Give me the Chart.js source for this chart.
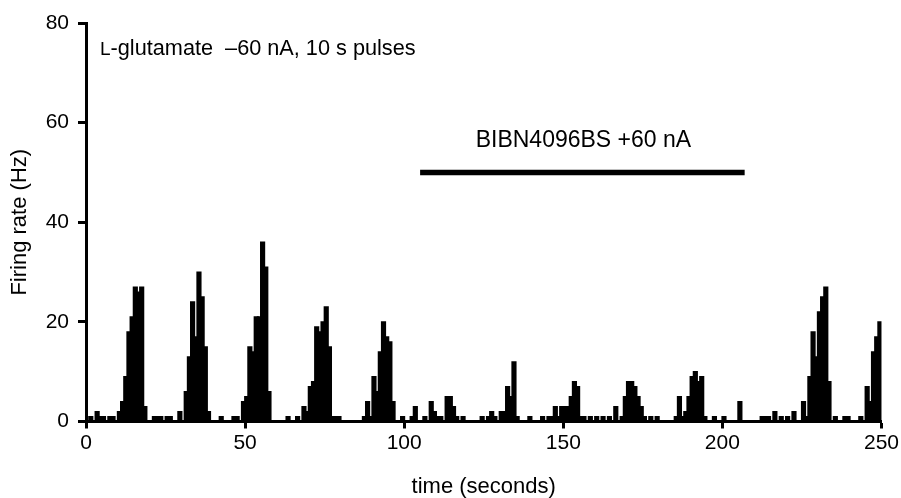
<!DOCTYPE html>
<html>
<head>
<meta charset="utf-8">
<script src="https://cdn.jsdelivr.net/npm/chart.js@4.4.1/dist/chart.umd.min.js"></script>
<style>
  html, body { margin: 0; padding: 0; background: #fff; }
  canvas { display: block; }
</style>
</head>
<body>
<canvas id="rate" width="901" height="498"></canvas>
<script>
// firing rate per 1 s bin, bins 0..249 (Hz)
const firingRate = [
  0, 1, 0, 2, 1, 1, 0, 1, 1, 0,      // 0-9
  2, 4, 9, 18, 21, 27, 26, 27, 3, 0,  // 10-19
  0, 1, 1, 1, 0, 1, 1, 0, 0, 2,      // 20-29
  0, 6, 13, 24, 17, 30, 25, 15, 2, 0, // 30-39
  0, 0, 1, 0, 0, 0, 1, 1, 0, 4,      // 40-49
  5, 15, 14, 21, 21, 36, 31, 6, 0, 0, // 50-59
  0, 0, 0, 1, 0, 0, 1, 0, 3, 2,      // 60-69
  7, 8, 19, 18, 20, 23, 15, 1, 1, 1,  // 70-79
  0, 0, 0, 0, 0, 0, 0, 1, 4, 1,      // 80-89
  9, 6, 14, 20, 17, 16, 4, 0, 0, 1,   // 90-99
  0, 0, 1, 3, 0, 0, 1, 0, 4, 2,      // 100-109
  1, 1, 0, 5, 5, 3, 1, 0, 1, 0,      // 110-119
  0, 0, 0, 0, 1, 0, 1, 2, 1, 0,      // 120-129
  2, 2, 7, 5, 12, 1, 0, 0, 0, 1,     // 130-139
  0, 0, 0, 1, 0, 1, 1, 3, 1, 3,      // 140-149
  3, 3, 5, 8, 7, 1, 1, 0, 1, 0,      // 150-159
  1, 0, 1, 0, 1, 0, 3, 0, 1, 5,      // 160-169
  8, 8, 7, 5, 3, 1, 0, 1, 0, 1,      // 170-179
  0, 0, 0, 0, 0, 1, 5, 1, 2, 5,      // 180-189
  9, 10, 8, 9, 1, 0, 0, 1, 0, 0,     // 190-199
  1, 0, 0, 0, 0, 4, 0, 0, 0, 0,      // 200-209
  0, 0, 1, 1, 1, 0, 2, 0, 1, 0,      // 210-219
  1, 0, 2, 0, 0, 4, 1, 9, 18, 13,    // 220-229
  22, 25, 27, 8, 0, 1, 0, 0, 1, 1,   // 230-239
  0, 0, 0, 1, 0, 7, 4, 14, 17, 20    // 240-249
];
const binWidth = 1; // seconds

// BIBN4096BS application, seconds
const drugStart = 105;
const drugEnd = 207;
const drugLevel = 50;

const xTicks = [0, 50, 100, 150, 200, 250];
const yTicks = [0, 20, 40, 60, 80];

const drugLabel = 'BIBN4096BS +60 nA';
const glutLabelL = 'L';
const glutLabelRest = '-glutamate  \u201360 nA, 10 s pulses';

const fam = '"Liberation Sans", Arial, Helvetica, sans-serif';

const barData = firingRate.map((v, i) => ({ x: i * binWidth + binWidth / 2, y: v }));
const drugData = [{ x: drugStart, y: drugLevel }, { x: drugEnd, y: drugLevel }];

const annotate = {
  id: 'annotate',
  afterDatasetsDraw(chart) {
    const { ctx } = chart;
    const x = chart.scales.x, y = chart.scales.y;
    ctx.save();
    ctx.fillStyle = '#000';
    ctx.textBaseline = 'middle';
    ctx.textAlign = 'center';
    ctx.font = '23px ' + fam;
    ctx.fillText(drugLabel, x.getPixelForValue((drugStart + drugEnd) / 2) + 1, y.getPixelForValue(56.3));

    ctx.textAlign = 'left';
    ctx.textBaseline = 'alphabetic';
    const gx = x.getPixelForValue(4.4);
    const gy = y.getPixelForValue(73.6);
    ctx.font = '19px ' + fam;
    ctx.fillText(glutLabelL, gx, gy);
    const w = ctx.measureText(glutLabelL).width;
    ctx.font = '21.7px ' + fam;
    ctx.fillText(glutLabelRest, gx + w, gy);
    ctx.restore();
  }
};

new Chart(document.getElementById('rate'), {
  type: 'bar',
  data: {
    datasets: [
      {
        type: 'line',
        data: drugData,
        borderColor: '#000',
        borderWidth: 5.5,
        borderCapStyle: 'butt',
        pointRadius: 0,
        fill: false
      },
      {
        data: barData,
        backgroundColor: '#000',
        borderWidth: 0,
        inflateAmount: 0.6,
        categoryPercentage: 1,
        barPercentage: 1.25
      }
    ]
  },
  options: {
    responsive: false,
    animation: false,
    layout: { padding: { top: 23, right: 19, left: 0, bottom: 0 } },
    plugins: { legend: { display: false }, tooltip: { enabled: false } },
    scales: {
      x: {
        type: 'linear',
        min: 0,
        max: 250,
        offset: false,
        afterBuildTicks: s => { s.ticks = xTicks.map(v => ({ value: v })); },
        ticks: { color: '#000', font: { family: fam, size: 21 }, padding: 2, maxRotation: 0 },
        grid: { drawOnChartArea: false, offset: false, tickLength: 7, tickWidth: 3, tickColor: '#000' },
        border: { color: '#000', width: 3, z: 1 },
        title: { display: true, text: 'time (seconds)', color: '#000', font: { family: fam, size: 22, lineHeight: 1 }, padding: { top: 0, bottom: 0 } },
        afterFit: s => { s.height = 76.5; }
      },
      y: {
        min: 0,
        max: 80,
        afterBuildTicks: s => { s.ticks = yTicks.map(v => ({ value: v })); },
        ticks: { color: '#000', font: { family: fam, size: 21 }, padding: 9 },
        grid: { drawOnChartArea: false, tickLength: 8, tickWidth: 3, tickColor: '#000' },
        border: { color: '#000', width: 3, z: 1 },
        title: { display: true, text: 'Firing rate (Hz)', color: '#000', font: { family: fam, size: 22, lineHeight: 1 }, padding: { top: 9, bottom: 0 } },
        afterFit: s => { s.width = 86; }
      }
    }
  },
  plugins: [annotate]
});
</script>
</body>
</html>
